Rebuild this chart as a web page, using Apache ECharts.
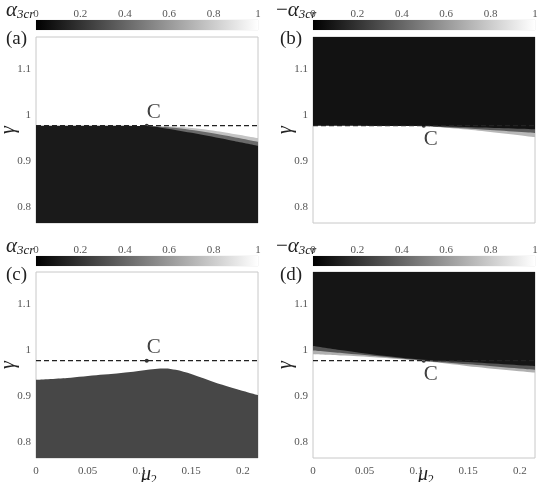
<!DOCTYPE html>
<html>
<head>
<meta charset="utf-8">
<script src="https://cdn.jsdelivr.net/npm/echarts@6/dist/echarts.min.js"></script>
<style>
  * { margin: 0; padding: 0; box-sizing: border-box; }
  body { background: #fff; }
  #chart { width: 540px; height: 482px; }
</style>
</head>
<body>
<div id="chart"></div>
<script>
// axis ticks
const muTicks = [0, 0.05, 0.1, 0.15, 0.2];
const gammaTicks = [0.8, 0.9, 1, 1.1];
const barTicks = [0, 0.2, 0.4, 0.6, 0.8, 1];
const muRange = [0, 0.2145];
const gammaRange = [0.766, 1.171];

// critical line and point C
const gammaCr = 0.978;
const pointC = [0.107, 0.978];

// (a) dark region below the boundary, grey fringe above it on the right
const boundaryA = [[0, 0.978], [0.06, 0.978], [0.107, 0.977], [0.127, 0.971], [0.158, 0.959], [0.19, 0.945], [0.2145, 0.934]];
const innerFringeA = [[0.107, 0.978], [0.14, 0.972], [0.175, 0.96], [0.2145, 0.943]];
const outerFringeA = [[0.107, 0.978], [0.14, 0.975], [0.175, 0.966], [0.2145, 0.951]];

// (b) dark region above the boundary
const boundaryB = [[0, 0.978], [0.107, 0.977], [0.16, 0.974], [0.2145, 0.97]];
const innerFringeB = [[0.107, 0.977], [0.16, 0.97], [0.2145, 0.962]];
const outerFringeB = [[0.107, 0.977], [0.16, 0.967], [0.2145, 0.953]];

// (c) grey region below the boundary
const boundaryC = [[0, 0.936], [0.03, 0.94], [0.062, 0.947], [0.094, 0.954], [0.115, 0.96], [0.125, 0.961], [0.135, 0.958], [0.15, 0.949], [0.175, 0.929], [0.2145, 0.903]];

// (d) dark region above the boundary
const boundaryD = [[0, 1.01], [0.03, 1.0], [0.06, 0.991], [0.107, 0.98], [0.15, 0.975], [0.2145, 0.966]];
const innerFringeD = [[0, 1.0], [0.03, 0.994], [0.06, 0.988], [0.107, 0.978], [0.15, 0.97], [0.2145, 0.958]];
const outerFringeD = [[0, 0.992], [0.03, 0.989], [0.055, 0.986], [0.085, 0.981], [0.107, 0.977], [0.15, 0.966], [0.2145, 0.952]];

const serif = '"Liberation Serif", "DejaVu Serif", serif';

const panels = [
  { tag: '(a)', neg: false, left: 36, top: 37, barTop: 20, labelsX: false, cBelow: false,
    areas: [{ data: outerFringeA, color: '#c4c4c4', origin: 'start' },
            { data: innerFringeA, color: '#6a6a6a', origin: 'start' },
            { data: boundaryA, color: '#1a1a1a', origin: 'start' }] },
  { tag: '(b)', neg: true, left: 313, top: 37, barTop: 20, labelsX: false, cBelow: true,
    areas: [{ data: outerFringeB, color: '#b8b8b8', origin: 'end' },
            { data: innerFringeB, color: '#5a5a5a', origin: 'end' },
            { data: boundaryB, color: '#121212', origin: 'end' }] },
  { tag: '(c)', neg: false, left: 36, top: 272, barTop: 256, labelsX: true, cBelow: false,
    areas: [{ data: boundaryC, color: '#474747', origin: 'start' }] },
  { tag: '(d)', neg: true, left: 313, top: 272, barTop: 256, labelsX: true, cBelow: true,
    areas: [{ data: outerFringeD, color: '#b0b0b0', origin: 'end' },
            { data: innerFringeD, color: '#555', origin: 'end' },
            { data: boundaryD, color: '#151515', origin: 'end' }] }
];

const W = 222, H = 186;
const grid = [], xAxis = [], yAxis = [], series = [], title = [];

panels.forEach(function (p) {
  const gMain = grid.length;
  grid.push({ left: p.left, top: p.top, width: W, height: H, show: true, borderColor: '#c8c8c8', borderWidth: 1,
              backgroundColor: 'transparent', containLabel: false, outerBoundsMode: 'none' });
  xAxis.push({
    gridIndex: gMain, type: 'value', min: muRange[0], max: muRange[1],
    axisLine: { show: false }, axisTick: { show: false }, splitLine: { show: false },
    axisLabel: { show: p.labelsX, customValues: muTicks, color: '#555', fontFamily: serif, fontSize: 11, margin: 8 },
    name: p.labelsX ? '{m|μ}{s|2}' : '', nameLocation: 'middle', nameGap: 6, nameMoveOverlap: false,
    nameTextStyle: { padding: [0, 0, 0, 4], rich: {
      m: { fontFamily: serif, fontStyle: 'italic', fontSize: 20, color: '#222' },
      s: { fontFamily: serif, fontSize: 12, color: '#222', padding: [10, 0, 0, 0] } } }
  });
  yAxis.push({
    gridIndex: gMain, type: 'value', min: gammaRange[0], max: gammaRange[1],
    axisLine: { show: false }, axisTick: { show: false }, splitLine: { show: false },
    axisLabel: { customValues: gammaTicks, color: '#555', fontFamily: serif, fontSize: 11, margin: 5 },
    name: 'γ', nameLocation: 'middle', nameGap: 17, nameMoveOverlap: false,
    nameTextStyle: { fontFamily: serif, fontStyle: 'italic', fontSize: 20, color: '#222' }
  });

  p.areas.forEach(function (a) {
    series.push({
      type: 'line', xAxisIndex: gMain, yAxisIndex: gMain, data: a.data,
      symbol: 'none', smooth: 0.3, lineStyle: { width: 0 }, silent: true,
      areaStyle: { color: a.color, opacity: 1, origin: a.origin }
    });
  });
  series.push({
    type: 'line', xAxisIndex: gMain, yAxisIndex: gMain,
    data: [[muRange[0], gammaCr], [muRange[1], gammaCr]],
    symbol: 'none', lineStyle: { color: '#222', width: 1.2, type: [5, 3] }
  });
  series.push({
    type: 'scatter', xAxisIndex: gMain, yAxisIndex: gMain, data: [pointC],
    symbolSize: 4, itemStyle: { color: '#000' },
    label: { show: true, formatter: 'C', position: p.cBelow ? 'bottom' : 'top', distance: 1, offset: [7, 0],
             fontFamily: serif, fontSize: 21, color: '#111' }
  });

  // colour bar
  const gBar = grid.length;
  grid.push({ left: p.left, top: p.barTop, width: W, height: 10, show: true, borderColor: '#ddd', borderWidth: 0.5,
              containLabel: false, outerBoundsMode: 'none' });
  xAxis.push({
    gridIndex: gBar, type: 'value', min: 0, max: 1, interval: 0.2, position: 'top',
    axisLine: { show: false }, axisTick: { show: false }, splitLine: { show: false },
    axisLabel: { customValues: barTicks, color: '#555', fontFamily: serif, fontSize: 11, margin: 0 }
  });
  yAxis.push({ gridIndex: gBar, type: 'value', min: 0, max: 1, show: false });
  series.push({
    type: 'line', xAxisIndex: gBar, yAxisIndex: gBar, data: [[0, 1], [1, 1]],
    symbol: 'none', lineStyle: { width: 0 }, silent: true,
    areaStyle: { opacity: 1, origin: 'start',
      color: new echarts.graphic.LinearGradient(0, 0, 1, 0, [
        { offset: 0, color: '#000' }, { offset: 1, color: '#fff' }]) }
  });

  // labels
  const colLeft = p.left < 100 ? 0 : 270;
  title.push({
    text: (p.neg ? '−' : '') + '{a|α}{s|3cr}',
    left: colLeft + 1, top: p.barTop - 26,
    textStyle: { rich: {
      a: { fontFamily: serif, fontStyle: 'italic', fontWeight: 'normal', fontSize: 21, color: '#222' },
      s: { fontFamily: serif, fontStyle: 'italic', fontWeight: 'normal', fontSize: 13, color: '#222', padding: [9, 0, 0, 0] } },
      fontFamily: serif, fontWeight: 'normal', fontSize: 21, color: '#222' }
  });
  title.push({
    text: p.tag, left: colLeft + (p.neg ? 5 : 1), top: p.barTop + 5,
    textStyle: { fontFamily: serif, fontSize: 19, fontWeight: 'normal', color: '#222' }
  });
});

const myChart = echarts.init(document.getElementById('chart'));
myChart.setOption({
  animation: false,
  backgroundColor: '#fff',
  title: title,
  grid: grid,
  xAxis: xAxis,
  yAxis: yAxis,
  series: series
});
</script>
</body>
</html>
